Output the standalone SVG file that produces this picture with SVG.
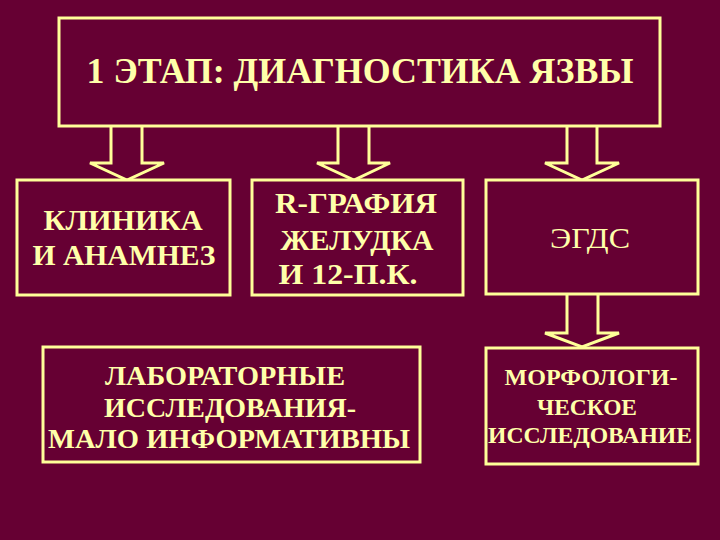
<svg xmlns="http://www.w3.org/2000/svg" width="720" height="540" viewBox="0 0 720 540">
<style>
.box{fill:#660033;stroke:#FFFF99;stroke-width:3}
.arr{fill:#660033;stroke:#FFFF99;stroke-width:3;stroke-linejoin:miter}
.t{fill:#FFFFAA;text-anchor:middle}
.b{font-weight:bold}
</style>
<rect width="720" height="540" fill="#660033"/>
<g id="connectors">
<path class="arr" d="M111,126 V163 H90 L127,180 L164,163 H142 V126"/>
<path class="arr" d="M338,126 V163 H317 L354,180 L390,163 H369 V126"/>
<path class="arr" d="M567,126 V163 H545 L582,180 L619,163 H597 V126"/>
<path class="arr" d="M567,294 V333 H545 L582,347 L619,333 H598 V294"/>
</g>
<g font-family="Liberation Serif, Times New Roman, serif">
<g id="top">
<rect class="box" x="59" y="18" width="601" height="108"/>
<text class="t b" x="360" y="83" font-size="35" textLength="547" lengthAdjust="spacingAndGlyphs">1 ЭТАП: ДИАГНОСТИКА ЯЗВЫ</text>
</g>
<g id="clinic">
<rect class="box" x="17" y="180" width="213" height="115"/>
<text class="t b" x="123" y="230" font-size="30" textLength="159" lengthAdjust="spacingAndGlyphs">КЛИНИКА</text>
<text class="t b" x="124" y="265" font-size="30" textLength="183" lengthAdjust="spacingAndGlyphs">И АНАМНЕЗ</text>
</g>
<g id="xray">
<rect class="box" x="252" y="180" width="211" height="115"/>
<text class="t b" x="356" y="213" font-size="30" textLength="162" lengthAdjust="spacingAndGlyphs">R-ГРАФИЯ</text>
<text class="t b" x="357" y="250" font-size="30" textLength="153" lengthAdjust="spacingAndGlyphs">ЖЕЛУДКА</text>
<text class="t b" x="348" y="284" font-size="30" textLength="139" lengthAdjust="spacingAndGlyphs">И 12-П.К.</text>
</g>
<g id="egds">
<rect class="box" x="486" y="180" width="212" height="114"/>
<text class="t" x="590" y="248" font-size="30" textLength="80" lengthAdjust="spacingAndGlyphs">ЭГДС</text>
</g>
<g id="lab">
<rect class="box" x="43" y="347" width="377" height="115"/>
<text class="t b" x="225" y="385" font-size="27" textLength="240" lengthAdjust="spacingAndGlyphs">ЛАБОРАТОРНЫЕ</text>
<text class="t b" x="230" y="417" font-size="27" textLength="252" lengthAdjust="spacingAndGlyphs">ИССЛЕДОВАНИЯ-</text>
<text class="t b" x="229" y="448" font-size="27" textLength="362" lengthAdjust="spacingAndGlyphs">МАЛО ИНФОРМАТИВНЫ</text>
</g>
<g id="morph">
<rect class="box" x="486" y="348" width="212" height="116"/>
<text class="t b" x="591" y="385" font-size="23" textLength="173" lengthAdjust="spacingAndGlyphs">МОРФОЛОГИ-</text>
<text class="t b" x="587" y="415" font-size="23" textLength="100" lengthAdjust="spacingAndGlyphs">ЧЕСКОЕ</text>
<text class="t b" x="590" y="443" font-size="23" textLength="204" lengthAdjust="spacingAndGlyphs">ИССЛЕДОВАНИЕ</text>
</g>
</g>
</svg>
